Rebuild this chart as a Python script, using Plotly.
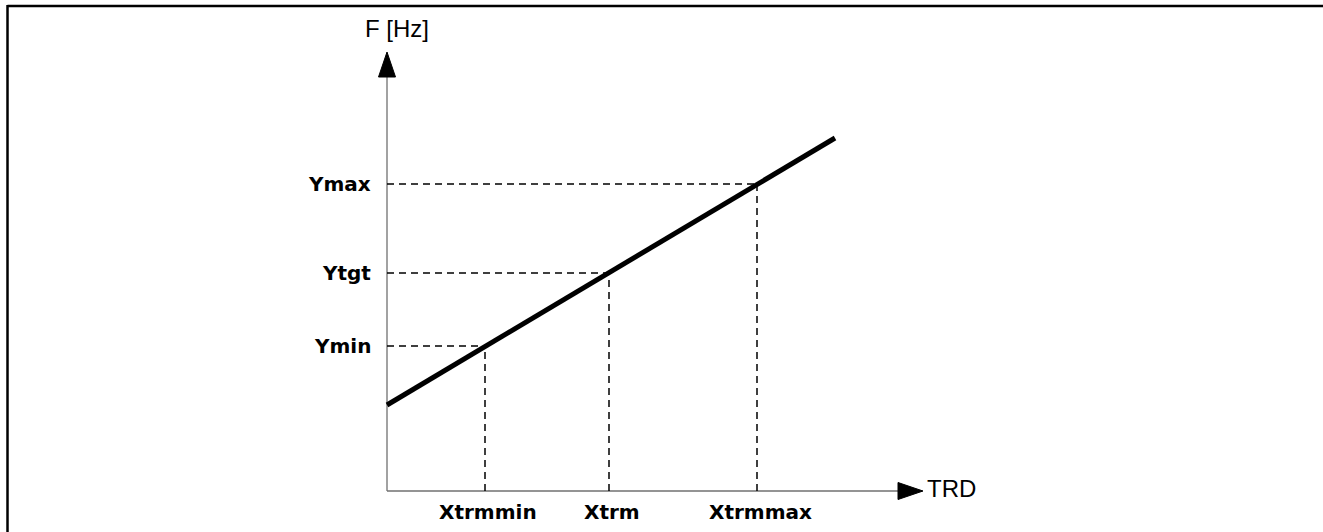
import plotly.graph_objects as go

# ---- data (arbitrary units, origin = axes intersection) ----
y_labels = ["Ymin", "Ytgt", "Ymax"]
y_values = [145, 218, 307]
x_labels = ["Xtrmmin", "Xtrm", "Xtrmmax"]
x_values = [98, 222, 370]
line_x = [0, 448]
line_y = [86, 353]
x_axis_end = 536
y_axis_end = 439
x_title = "TRD"
y_title = "F [Hz]"

# ---- style constants ----
X_RANGE = [-387, 936]
Y_RANGE = [-41, 491]
ARROW_LEN = 25
ARROW_HALF = 8.5
AXIS_COLOR = "#707070"
DASH = "7px,5px"
BOLD_FONT = dict(family="DejaVu Sans", size=20, color="black", weight="bold")
REG_FONT = dict(family="Liberation Sans, Arial", size=24, color="black")

fig = go.Figure()

# axes lines
fig.add_trace(go.Scatter(x=[0, x_axis_end - ARROW_LEN], y=[0, 0], mode="lines",
                         line=dict(color=AXIS_COLOR, width=1.3), hoverinfo="skip"))
fig.add_trace(go.Scatter(x=[0, 0], y=[0, y_axis_end - ARROW_LEN], mode="lines",
                         line=dict(color=AXIS_COLOR, width=1.3), hoverinfo="skip"))

# arrowheads
fig.add_trace(go.Scatter(
    x=[x_axis_end - ARROW_LEN, x_axis_end, x_axis_end - ARROW_LEN, x_axis_end - ARROW_LEN],
    y=[ARROW_HALF, 0, -ARROW_HALF, ARROW_HALF],
    mode="lines", fill="toself", fillcolor="black", line=dict(color="black", width=1),
    hoverinfo="skip"))
fig.add_trace(go.Scatter(
    x=[-ARROW_HALF, 0, ARROW_HALF, -ARROW_HALF],
    y=[y_axis_end - ARROW_LEN, y_axis_end, y_axis_end - ARROW_LEN, y_axis_end - ARROW_LEN],
    mode="lines", fill="toself", fillcolor="black", line=dict(color="black", width=1),
    hoverinfo="skip"))

# dashed guides
for xv, yv in zip(x_values, y_values):
    fig.add_trace(go.Scatter(x=[0, xv], y=[yv, yv], mode="lines",
                             line=dict(color="black", width=1.5, dash=DASH), hoverinfo="skip"))
    fig.add_trace(go.Scatter(x=[xv, xv], y=[0, yv], mode="lines",
                             line=dict(color="black", width=1.5, dash=DASH), hoverinfo="skip"))

# main line
fig.add_trace(go.Scatter(x=line_x, y=line_y, mode="lines",
                         line=dict(color="black", width=5), hoverinfo="skip"))

# labels
for lab, yv in zip(y_labels, y_values):
    fig.add_annotation(x=-14, y=yv, text=lab, showarrow=False, xanchor="right",
                       yanchor="middle", font=BOLD_FONT)
for lab, xv in zip(x_labels, x_values):
    fig.add_annotation(x=xv + 3, y=-21, text=lab, showarrow=False, xanchor="center",
                       yanchor="middle", font=BOLD_FONT)
fig.add_annotation(x=x_axis_end + 2, y=3, text=x_title, showarrow=False, xanchor="left",
                   yanchor="middle", font=REG_FONT)
fig.add_annotation(x=10, y=463, text=y_title, showarrow=False, xanchor="center",
                   yanchor="middle", font=REG_FONT)

# frame
fig.add_shape(type="line", xref="paper", yref="paper", x0=7.5 / 1323, x1=1, y0=1 - 6 / 532,
              y1=1 - 6 / 532, line=dict(color="black", width=2.5))
fig.add_shape(type="line", xref="paper", yref="paper", x0=7.5 / 1323, x1=7.5 / 1323,
              y0=0, y1=1 - 5 / 532, line=dict(color="black", width=2.5))

fig.update_layout(
    width=1323, height=532, autosize=False,
    margin=dict(l=0, r=0, t=0, b=0, pad=0),
    showlegend=False,
    plot_bgcolor="white", paper_bgcolor="white",
    xaxis=dict(range=X_RANGE, visible=False, fixedrange=True),
    yaxis=dict(range=Y_RANGE, visible=False, fixedrange=True),
)

fig.write_html(
    "out.html",
    config={"displayModeBar": False},
    post_script="document.body.style.margin='0';document.body.style.overflow='hidden';",
)
